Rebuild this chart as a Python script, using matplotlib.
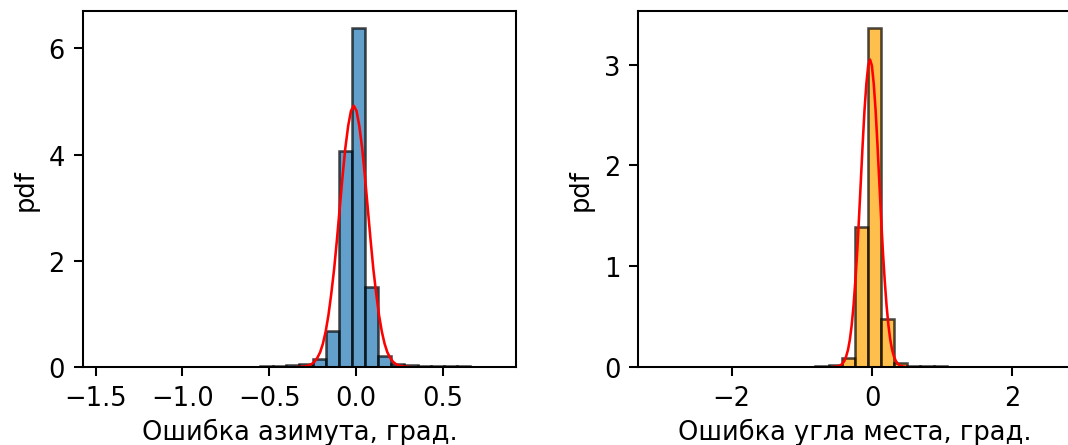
import matplotlib
matplotlib.use("Agg")
import matplotlib.pyplot as plt
import numpy as np

DPI = 185

# histogram of azimuth error (density per bin), 30 bins
az_range = (-1.46, 0.81)
az_pdf = [
    0.002, 0, 0, 0, 0, 0, 0, 0, 0, 0,
    0, 0, 0.02, 0.02, 0.03, 0.05, 0.145, 0.67, 4.07, 6.385,
    1.508, 0.2, 0.06, 0.03, 0.02, 0.015, 0.015, 0.01, 0, 0.002,
]
# fitted normal curve
az_fit_x = [
    -0.336, -0.320, -0.304, -0.287, -0.271, -0.255, -0.239, -0.223, -0.206, -0.190,
    -0.174, -0.158, -0.142, -0.125, -0.109, -0.093, -0.077, -0.061, -0.044, -0.028,
    -0.012,
    0.004, 0.020, 0.037, 0.053, 0.069, 0.085, 0.101, 0.118, 0.134, 0.150,
    0.166, 0.182, 0.199, 0.215, 0.231, 0.247, 0.263, 0.280, 0.296, 0.312,
]
az_fit_y = [
    0.0016, 0.0036, 0.0075, 0.015, 0.029, 0.055, 0.097, 0.167, 0.276, 0.437,
    0.666, 0.974, 1.368, 1.846, 2.395, 2.984, 3.572, 4.110, 4.542, 4.823,
    4.92,
    4.823, 4.542, 4.110, 3.572, 2.984, 2.395, 1.846, 1.368, 0.974, 0.666,
    0.437, 0.276, 0.167, 0.097, 0.055, 0.029, 0.015, 0.0075, 0.0036, 0.0016,
]

# histogram of elevation error
el_range = (-3.05, 2.56)
el_pdf = [
    0, 0, 0, 0, 0, 0, 0, 0, 0, 0,
    0, 0, 0.008, 0.015, 0.085, 1.386, 3.364, 0.481, 0.035, 0.01,
    0.008, 0.006, 0, 0, 0, 0, 0, 0, 0, 0,
]
el_fit_x = [
    -0.552, -0.526, -0.500, -0.473, -0.447, -0.421, -0.395, -0.369, -0.342, -0.316,
    -0.290, -0.264, -0.238, -0.211, -0.185, -0.159, -0.133, -0.107, -0.080, -0.054,
    -0.028,
    -0.002, 0.024, 0.051, 0.077, 0.103, 0.129, 0.155, 0.182, 0.208, 0.234,
    0.260, 0.286, 0.313, 0.339, 0.365, 0.391, 0.417, 0.444, 0.470, 0.496,
]
el_fit_y = [
    0.001, 0.0022, 0.0047, 0.0094, 0.018, 0.034, 0.060, 0.104, 0.171, 0.271,
    0.413, 0.604, 0.848, 1.145, 1.485, 1.850, 2.215, 2.548, 2.815, 2.990,
    3.05,
    2.990, 2.815, 2.548, 2.215, 1.850, 1.485, 1.145, 0.848, 0.604, 0.413,
    0.271, 0.171, 0.104, 0.060, 0.034, 0.018, 0.0094, 0.0047, 0.0022, 0.001,
]

fig = plt.figure(figsize=(1068 / DPI, 446 / DPI), dpi=DPI)
ax1 = fig.add_axes([0.0777, 0.1749, 0.4054, 0.7982])
# the right panel runs past the edge of the picture, as in the original
ax2 = fig.add_axes([0.5977, 0.1749, 0.4054, 0.7982])

panels = [
    (ax1, az_range, az_pdf, az_fit_x, az_fit_y, "C0", "Ошибка азимута, град."),
    (ax2, el_range, el_pdf, el_fit_x, el_fit_y, "orange", "Ошибка угла места, град."),
]

for ax, rng, pdf, fx, fy, color, label in panels:
    edges = np.linspace(rng[0], rng[1], len(pdf) + 1)
    ax.hist(edges[:-1], bins=edges, weights=pdf, color=color, alpha=0.7, edgecolor="black")
    ax.plot(fx, fy, color="red", linewidth=1)
    ax.set_xlabel(label, labelpad=2.5)
    ax.set_ylabel("pdf")

fig.savefig("out.png", dpi=DPI)
